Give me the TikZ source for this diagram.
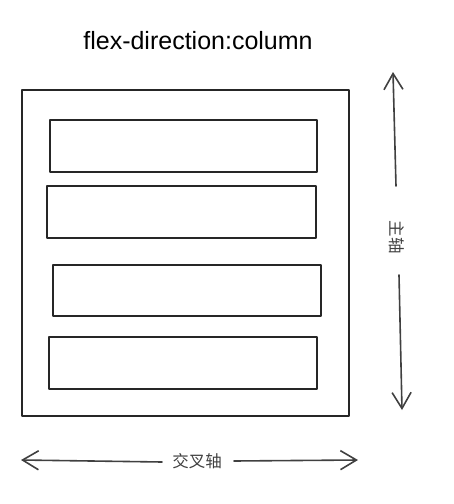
\documentclass[tikz,border=0pt]{standalone}
\usepackage{fontspec}
\setmainfont{Liberation Sans}
\newfontfamily\cjk{Noto Sans CJK SC}
\usetikzlibrary{arrows.meta}
\begin{document}
\begin{tikzpicture}[x=1pt,y=-1pt,
  sk/.style={draw=black!85,line width=1.8pt,line join=round},
  box/.style={sk,anchor=north west,inner sep=0pt,minimum height=#1},
  arr/.style={draw=black!75,line width=1.6pt,line cap=round,-{Straight Barb[length=16pt,width=19pt,line width=1.6pt]}},
  lbl/.style={font=\cjk\fontsize{16.5}{18}\selectfont,text=black!75,inner sep=0pt}]
\useasboundingbox (0,0) rectangle (454,504);
\node[font=\fontsize{25}{28}\selectfont,inner sep=0pt] (title) at (198,41) {flex-direction:column};
\node[box=326pt,minimum width=327pt] (outer) at (21,89) {};
\node[box=52pt,minimum width=267pt] (r1) at (49,119) {};
\node[box=52pt,minimum width=269pt] (r2) at (46,185) {};
\node[box=51pt,minimum width=268pt] (r3) at (52,264) {};
\node[box=52pt,minimum width=268pt] (r4) at (48,336) {};
\node[lbl,rotate=-90] (main) at (397,237) {主轴};
\coordinate (mt) at (393,72);
\coordinate (mb) at (402,410);
\draw[arr] (396,186) -- (mt);
\draw[arr] (399,275) -- (mb);
\node[lbl] (cross) at (197,461) {交叉轴};
\coordinate (cl) at (21,460);
\coordinate (cr) at (358,460);
\draw[arr] (162,462) -- (cl);
\draw[arr] (234,461) -- (cr);
\end{tikzpicture}
\end{document}
